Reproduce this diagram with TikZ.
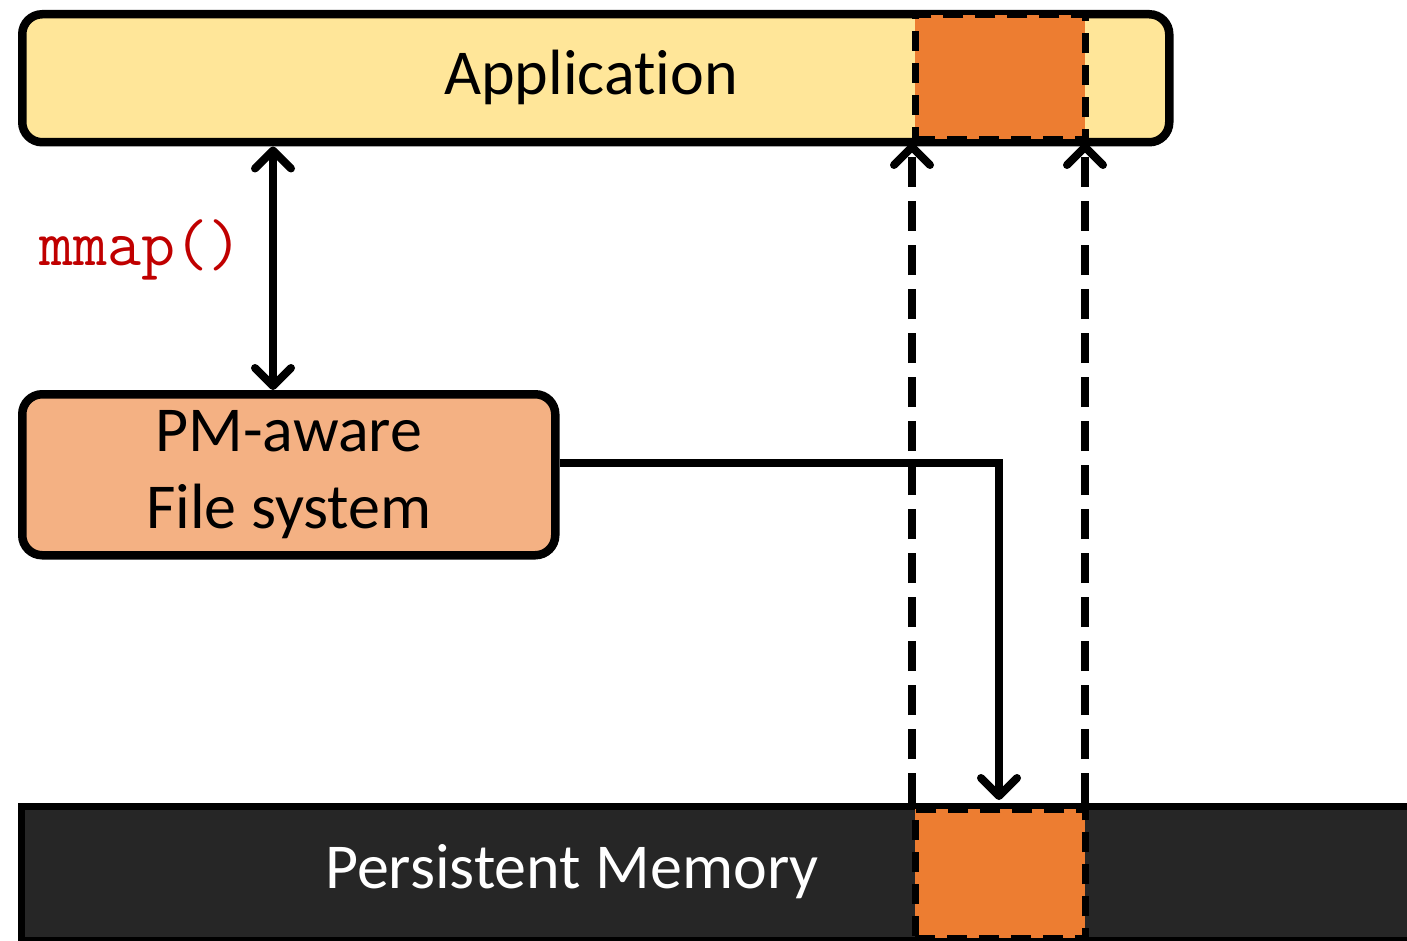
\documentclass[tikz,border=0pt]{standalone}
\usepackage{fontspec}
\setmainfont[Ligatures={NoCommon}]{Carlito}
\usetikzlibrary{arrows.meta}
\definecolor{appfill}{HTML}{FFE699}
\definecolor{fsfill}{HTML}{F4B183}
\definecolor{pmorange}{HTML}{ED7D31}
\definecolor{pmdark}{HTML}{262626}
\definecolor{mmapred}{HTML}{C00000}
\tikzset{
  box/.style={draw=black, line width=8.5pt, rounded corners=20pt, inner sep=0pt, anchor=north west, align=center, font=\fontsize{64}{77}\selectfont},
  pagebox/.style={draw=black, dash pattern=on 20pt off 12pt, line width=6.5pt, fill=pmorange, inner sep=0pt, anchor=north west},
  conn/.style={line width=8pt},
  dconn/.style={line width=8pt, dash pattern=on 30pt off 14pt}
}
\begin{document}
\begin{tikzpicture}[x=1pt,y=-1pt, >={Straight Barb[length=18pt,width=36pt,line cap=round,line join=round]}]
\useasboundingbox (0,0) rectangle (1407,941);
% application
\node[box, fill=appfill, minimum width=1147pt, minimum height=128pt] (app) at (18,10) {};
\node[font=\fontsize{64}{77}\selectfont] (apptext) at (591,77) {Application};
% FS
\node[box, fill=fsfill, minimum width=533pt, minimum height=161pt] (fs) at (18,390) {PM-aware\\File system};
% PM bar
\node[draw=black, line width=7pt, fill=pmdark, inner sep=0pt, anchor=north west, minimum width=1420pt, minimum height=134pt] (pm) at (18,803) {};
\node[font=\fontsize{64}{77}\selectfont, text=white] (pmtext) at (572,872) {Persistent Memory};
% orange pages
\node[pagebox, minimum width=170pt, minimum height=124pt] (pgtop) at (912,12) {};
\node[pagebox, minimum width=170pt, minimum height=129pt] (pgbot) at (912,806) {};
% mmap arrow
\draw[conn, <->] (app.south west -| 273,0) -- (fs.north west -| 273,0);
\node[font=\fontsize{66}{70}\selectfont\ttfamily, text=mmapred] (mmap) at (141,250) {mmap()};
% dashed mapping lines
\coordinate (l0) at (912,803);
\coordinate (l1) at (912,143);
\coordinate (r0) at (1085,803);
\coordinate (r1) at (1085,143);
\draw[dconn, ->] (l0) -- (l1);
\draw[dconn, ->] (r0) -- (r1);
% FS to PM
\coordinate (bend) at (999,463);
\coordinate (pmhit) at (999,800);
\draw[conn, ->] (fs.east |- bend) -- (bend) -- (pmhit);
\end{tikzpicture}
\end{document}
